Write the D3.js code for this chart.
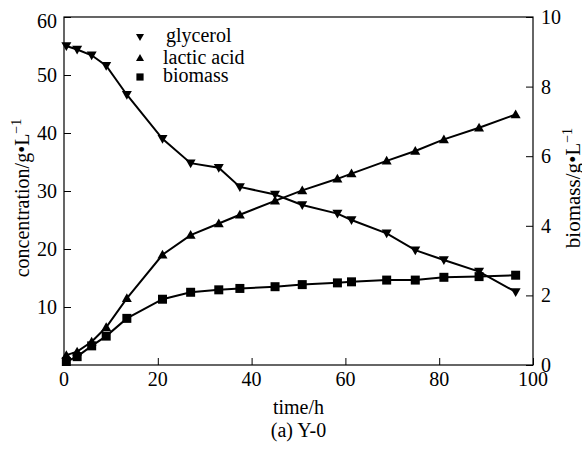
<!DOCTYPE html>
<html>
<head>
<meta charset="utf-8">
<script src="https://cdn.jsdelivr.net/npm/d3@7"></script>
<style>
	body { margin: 0; background: #fff; }
	svg text { font-family: "Times New Roman", "Liberation Serif", serif !important; }
</style>
</head>
<body>
<div id="main-container"></div>
<script>

// sampling times (h), shared by all three series
var timeH = [0.5, 2.8, 5.9, 9.0, 13.4, 21.0, 27.0, 33.0, 37.5, 45.0, 50.8, 58.3, 61.3, 68.8, 74.9, 81.0, 88.5, 96.3];

// left axis, g/L
var glycerol = [55.0, 54.4, 53.4, 51.6, 46.6, 39.0, 34.8, 34.0, 30.7, 29.4, 27.6, 26.1, 25.0, 22.7, 19.8, 18.1, 16.1, 12.6];
var lacticAcid = [1.7, 2.3, 4.0, 6.5, 11.5, 19.0, 22.4, 24.4, 25.9, 28.3, 30.1, 32.1, 33.0, 35.2, 36.9, 38.9, 40.9, 43.2];

// right axis, g/L
var biomass = [0.1, 0.24, 0.55, 0.83, 1.34, 1.89, 2.09, 2.16, 2.2, 2.25, 2.31, 2.36, 2.39, 2.44, 2.44, 2.52, 2.54, 2.58];

var xTicks = [0, 20, 40, 60, 80, 100];
var leftTicks = [10, 20, 30, 40, 50, 60];
var rightTicks = [0, 2, 4, 6, 8, 10];
var legendNames = ["glycerol", "lactic acid", "biomass"];

var SERIF = "Times New Roman";

drawChart();


function drawChart() {
	var width = 582,
		height = 449,
		margin = { top: 17, right: 49, bottom: 84, left: 64 },
		innerW = width - margin.left - margin.right,
		innerH = height - margin.top - margin.bottom;

	var svg = d3.select("#main-container")
		.append("svg")
		.attr("width", width)
		.attr("height", height);

	var g = svg.append("g")
		.attr("transform", "translate(" + margin.left + "," + margin.top + ")");

	var x = d3.scaleLinear().domain([0, 100]).range([0, innerW]);
	var yL = d3.scaleLinear().domain([0, 60]).range([innerH, 0]);
	var yR = d3.scaleLinear().domain([0, 10]).range([innerH, 0]);

	// axes built by d3, then tick text replaced with plain serif text
	var xAxis = g.append("g")
		.attr("transform", "translate(0," + innerH + ")")
		.call(d3.axisBottom(x).tickValues(xTicks).tickSizeInner(-7).tickSizeOuter(0).tickFormat(""));

	var leftAxis = g.append("g")
		.call(d3.axisLeft(yL).tickValues(leftTicks).tickSizeInner(-7).tickSizeOuter(0).tickFormat(""));

	var rightAxis = g.append("g")
		.attr("transform", "translate(" + innerW + ",0)")
		.call(d3.axisRight(yR).tickValues(rightTicks).tickSizeInner(-7).tickSizeOuter(0).tickFormat(""));

	[xAxis, leftAxis, rightAxis].forEach(function(ax) {
		ax.attr("font-family", null).attr("font-size", null);
		ax.selectAll("path").remove();
		ax.selectAll("text").remove();
		ax.selectAll("line").attr("stroke", "#000").attr("stroke-width", 1);
	});

	xTicks.forEach(function(v) {
		addText(g, String(v), 20)
			.attr("x", x(v))
			.attr("y", innerH + 21)
			.attr("text-anchor", "middle");
	});
	leftTicks.forEach(function(v) {
		addText(g, String(v), 20)
			.attr("x", -7)
			.attr("y", yL(v) + (v == 60 ? 11 : 7))
			.attr("text-anchor", "end");
	});
	rightTicks.forEach(function(v) {
		addText(g, String(v), 20)
			.attr("x", innerW + 8)
			.attr("y", yR(v) + 7)
			.attr("text-anchor", "start");
	});

	// frame
	g.append("rect")
		.attr("x", 0)
		.attr("y", 0)
		.attr("width", innerW)
		.attr("height", innerH)
		.attr("fill", "none")
		.attr("stroke", "#000")
		.attr("stroke-width", 1.2);

	// series
	var line = function(yScale, vals) {
		return d3.line()
			.x(function(d, i) { return x(timeH[i]); })
			.y(function(d) { return yScale(d); })(vals);
	};

	var series = [
		{ vals: glycerol, scale: yL, shape: "down" },
		{ vals: lacticAcid, scale: yL, shape: "up" },
		{ vals: biomass, scale: yR, shape: "square" }
	];

	series.forEach(function(s) {
		g.append("path")
			.attr("d", line(s.scale, s.vals))
			.attr("fill", "none")
			.attr("stroke", "#000")
			.attr("stroke-width", 2);

		g.selectAll(null)
			.data(s.vals)
			.enter()
			.append("path")
			.attr("d", marker(s.shape, 10))
			.attr("transform", function(d, i) {
				return "translate(" + x(timeH[i]) + "," + s.scale(d) + ")";
			})
			.attr("fill", "#000");
	});

	// legend
	var legendY = [37, 58, 77];
	var legendTextY = [42, 64, 82];
	var shapes = ["down", "up", "square"];
	legendNames.forEach(function(name, i) {
		svg.append("path")
			.attr("d", marker(shapes[i], 8))
			.attr("transform", "translate(140," + legendY[i] + ")")
			.attr("fill", "#000");
		addText(svg, name, 20)
			.attr("x", i == 0 ? 166 : 163)
			.attr("y", legendTextY[i]);
	});

	// axis titles
	addText(svg, "time/h", 20)
		.attr("x", margin.left + innerW / 2)
		.attr("y", 414)
		.attr("text-anchor", "middle");

	addText(svg, "(a) Y-0", 20)
		.attr("x", margin.left + innerW / 2)
		.attr("y", 437)
		.attr("text-anchor", "middle");

	var lt = addText(svg, null, 20)
		.attr("transform", "translate(29,198) rotate(-90)")
		.attr("text-anchor", "middle");
	lt.append("tspan").text("concentration/g\u2022L");
	lt.append("tspan").attr("dy", -8).attr("font-size", 14).text("\u22121");

	var rt = addText(svg, null, 21)
		.attr("transform", "translate(580,188) rotate(-90)")
		.attr("text-anchor", "middle");
	rt.append("tspan").text("biomass/g\u2022L");
	rt.append("tspan").attr("dy", -8).attr("font-size", 14).text("\u22121");
}


function addText(sel, str, size) {
	var t = sel.append("text")
		.attr("font-family", SERIF)
		.attr("font-size", size)
		.attr("fill", "#000");
	if (str) t.text(str);
	return t;
}


function marker(shape, size) {
	var h = size / 2;
	if (shape == "square") {
		var s = size * 0.45;
		return "M" + (-s) + "," + (-s) + "H" + s + "V" + s + "H" + (-s) + "Z";
	}
	if (shape == "up") {
		return "M0," + (-h) + "L" + h + "," + (h * 0.75) + "L" + (-h) + "," + (h * 0.75) + "Z";
	}
	return "M0," + h + "L" + h + "," + (-h * 0.75) + "L" + (-h) + "," + (-h * 0.75) + "Z";
}
</script>
</body>
</html>
